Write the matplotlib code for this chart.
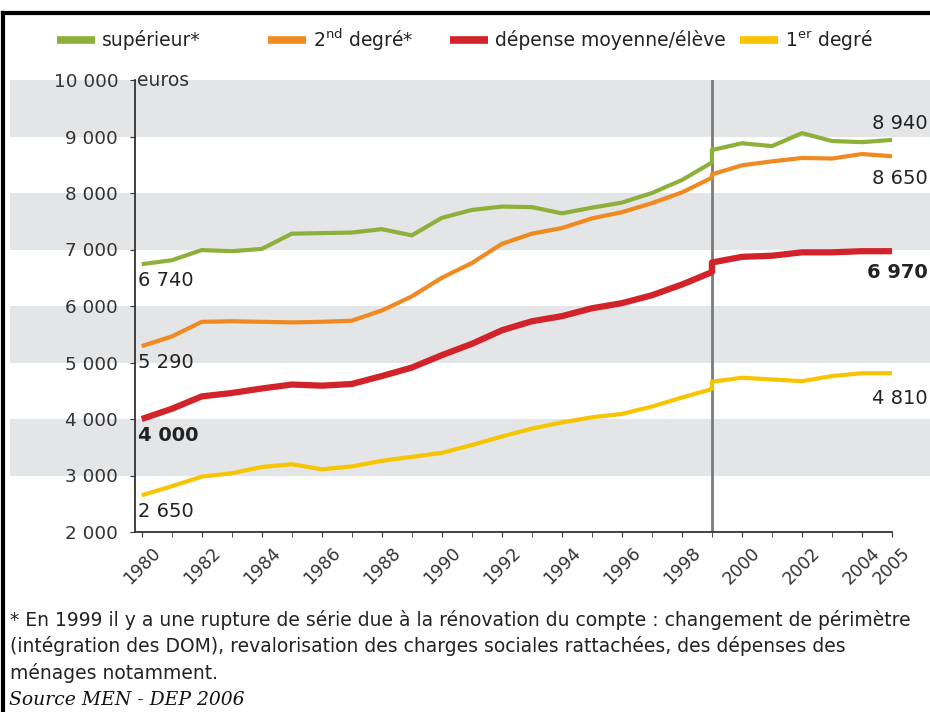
import matplotlib
matplotlib.use("Agg")
import matplotlib.pyplot as plt
from matplotlib.lines import Line2D

plt.rcParams['font.family'] = ['DejaVu Sans']
plt.rcParams['mathtext.fontset'] = 'dejavusans'

# annees : 1999 apparait deux fois (rupture de serie)
annees = list(range(1980, 2000)) + list(range(1999, 2006))

superieur = [6740, 6810, 6990, 6970, 7010, 7280, 7290, 7300, 7360, 7250,
             7560, 7700, 7760, 7750, 7640, 7740, 7830, 8000, 8230, 8540,
             8760, 8880, 8830, 9060, 8920, 8900, 8940]
second_degre = [5290, 5460, 5720, 5730, 5720, 5710, 5720, 5740, 5920, 6170,
                6500, 6760, 7100, 7280, 7380, 7550, 7660, 7820, 8010, 8270,
                8330, 8490, 8560, 8620, 8610, 8690, 8650]
depense_moy = [4000, 4180, 4400, 4460, 4540, 4610, 4590, 4620, 4760, 4910,
               5130, 5330, 5570, 5730, 5820, 5960, 6050, 6190, 6380, 6600,
               6770, 6870, 6890, 6950, 6950, 6970, 6970]
premier_degre = [2650, 2810, 2980, 3040, 3150, 3200, 3110, 3160, 3260, 3330,
                 3400, 3540, 3690, 3830, 3940, 4030, 4090, 4220, 4380, 4530,
                 4660, 4730, 4700, 4670, 4760, 4810, 4810]

y_ticks = [2000, 3000, 4000, 5000, 6000, 7000, 8000, 9000, 10000]
y_labels = ["2 000", "3 000", "4 000", "5 000", "6 000", "7 000", "8 000", "9 000", "10 000"]
x_ticks = list(range(1980, 2005, 2)) + [2005]

vert = '#8db03a'
orange = '#f0891f'
rouge = '#d2232a'
jaune = '#f7c400'

fig = plt.figure(figsize=(9.3, 7.12), dpi=100)
ax = fig.add_axes([135/930, 1 - 532/712, (892-135)/930, (532-80)/712])

# bandes grises
for b in [3000, 5000, 7000, 9000]:
    ax.axhspan(b, b + 1000, xmin=-125/757, xmax=795/757, color='#e4e5e7',
               lw=0, clip_on=False, zorder=0)

ax.axvline(1999, color='#7b7b7b', lw=2, zorder=1)

ax.plot(annees, superieur, color=vert, lw=3, zorder=3, solid_capstyle='butt')
ax.plot(annees, second_degre, color=orange, lw=3, zorder=3, solid_capstyle='butt')
ax.plot(annees, depense_moy, color=rouge, lw=4.5, zorder=3, solid_capstyle='butt')
ax.plot(annees, premier_degre, color=jaune, lw=3, zorder=3, solid_capstyle='butt')

ax.set_xlim(1980 - 6.7/30, 2005)
ax.set_ylim(2000, 10000)
ax.set_yticks(y_ticks)
ax.set_yticklabels(y_labels, fontsize=13.2, color='#333333')
ax.set_xticks(x_ticks)
ax.set_xticklabels([str(a) for a in x_ticks], rotation=45, ha='center',
                   fontsize=12.5, color='#333333')
ax.set_xticks(range(1980, 2006), minor=True)
ax.tick_params(axis='y', length=3.6, pad=8.5, color='#333333')
ax.tick_params(axis='x', which='both', length=3.6, pad=5, color='#333333')
ax.set_facecolor('none')
for s in ['top', 'right']:
    ax.spines[s].set_visible(False)
for s in ['left', 'bottom']:
    ax.spines[s].set_color('#333333')
    ax.spines[s].set_linewidth(1.3)

ax.text(1980 - 5/30, 10000, "euros", fontsize=13.5, color='#333333',
        ha='left', va='center')

# valeurs en debut et fin de courbe
debut = [(superieur[0], False), (second_degre[0], False),
         (depense_moy[0], True), (premier_degre[0], False)]
for v, gras in debut:
    ax.annotate(f"{v:,}".replace(",", " "), (1980, v), xytext=(-3, -12),
                textcoords='offset points', ha='left', va='center', fontsize=14,
                fontweight='bold' if gras else 'normal', color='#222222')

fin = [(superieur[-1], 12, False), (second_degre[-1], -16, False),
       (depense_moy[-1], -15, True), (premier_degre[-1], -18, False)]
for v, dy, gras in fin:
    ax.annotate(f"{v:,}".replace(",", " "), (2005, v), xytext=(26, dy),
                textcoords='offset points', ha='right', va='center', fontsize=14,
                fontweight='bold' if gras else 'normal', color='#222222')

# legende
leg = [(57, vert, "supérieur*"), (268, orange, r"2$^{\mathrm{nd}}$ degré*"),
       (450, rouge, "dépense moyenne/élève"), (740, jaune, r"1$^{\mathrm{er}}$ degré")]
for x0, c, lab in leg:
    fig.add_artist(Line2D([x0/930, (x0+38)/930], [1 - 40/712, 1 - 40/712],
                          color=c, lw=5.5, solid_capstyle='butt'))
    fig.text((x0+45)/930, 1 - 40/712, lab, fontsize=13.5, va='center', color='#222222')

# cadre
fig.add_artist(Line2D([3/930, 3/930], [0, 1 - 13/712], color='black', lw=3))
fig.add_artist(Line2D([3/930, 1], [1 - 13/712, 1 - 13/712], color='black', lw=3))

note = ["* En 1999 il y a une rupture de série due à la rénovation du compte : changement de périmètre",
        "(intégration des DOM), revalorisation des charges sociales rattachées, des dépenses des",
        "ménages notamment."]
for i, ligne in enumerate(note):
    fig.text(10/930, 1 - (620 + 26.5*i)/712, ligne, fontsize=13.5, va='center',
             ha='left', color='#222222')
fig.text(9/930, 1 - 700/712, "Source MEN - DEP 2006", fontsize=13.5, va='center',
         ha='left', family=['DejaVu Serif'], style='italic', color='#111111')

plt.savefig("out.png", dpi=100)
